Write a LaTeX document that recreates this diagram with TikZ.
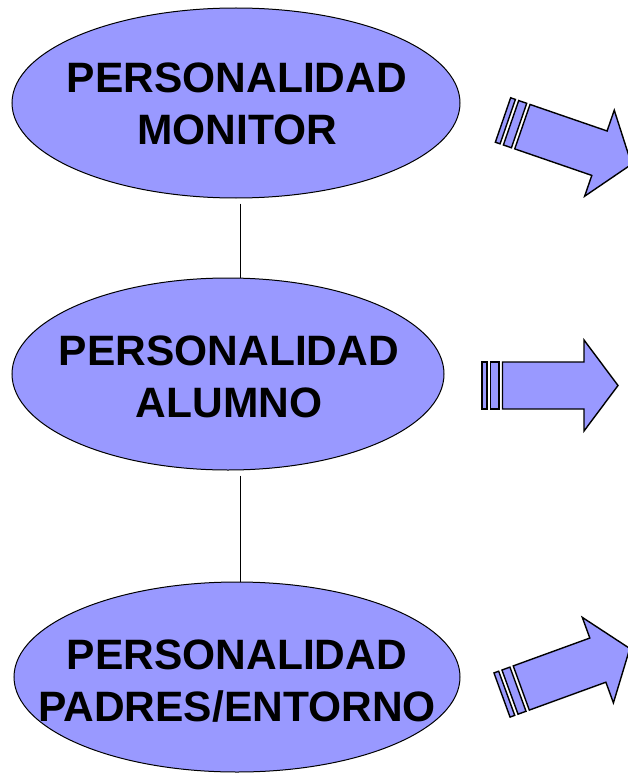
\documentclass[tikz,border=0pt]{standalone}
\usepackage{fontspec}
\setmainfont{Liberation Sans}
\usetikzlibrary{shapes.geometric}
\definecolor{lav}{HTML}{9999FF}
\tikzset{
  pers/.style={ellipse, draw=black, line width=1pt, fill=lav, inner sep=0pt},
  perstext/.style={align=center, inner sep=0pt, font=\bfseries\fontsize{42.5}{52}\selectfont},
  conn/.style={draw=black, line width=1pt},
  arr/.style={draw=black, line width=1.4pt, fill=lav, line join=miter}
}
\newcommand{\fatarrow}{%
  \path[arr] (0,-23.5) rectangle (5,23.5);
  \path[arr] (8.5,-23.5) rectangle (17,23.5);
  \path[arr] (20.5,-23.5) -- (102,-23.5) -- (102,-45.5) -- (136,0) -- (102,45.5) -- (102,23.5) -- (20.5,23.5) -- cycle;
}
\begin{document}
\begin{tikzpicture}[x=1pt,y=-1pt]
\useasboundingbox (0,0) rectangle (627,773);
\node[pers, minimum width=448pt, minimum height=190pt] (m) at (236,103) {};
\node[perstext] (mt) at (237,104) {PERSONALIDAD\\MONITOR};
\node[pers, minimum width=432pt, minimum height=192pt] (a) at (228,374) {};
\node[perstext] (at) at (229,377) {PERSONALIDAD\\ALUMNO};
\node[pers, minimum width=446pt, minimum height=190pt] (p) at (237,677) {};
\node[perstext] (pt) at (237,681) {PERSONALIDAD\\PADRES/ENTORNO};
\draw[conn] ([xshift=4pt,yshift=-5pt]m.south) -- ([xshift=12pt]a.north);
\draw[conn] ([xshift=12pt,yshift=-5pt]a.south) -- ([xshift=3pt]p.north);
\begin{scope}[shift={(503,120)}, rotate=-19]
\fatarrow
\end{scope}
\begin{scope}[shift={(482,385.5)}]
\fatarrow
\end{scope}
\begin{scope}[shift={(502,695)}, rotate=20]
\fatarrow
\end{scope}
\end{tikzpicture}
\end{document}
